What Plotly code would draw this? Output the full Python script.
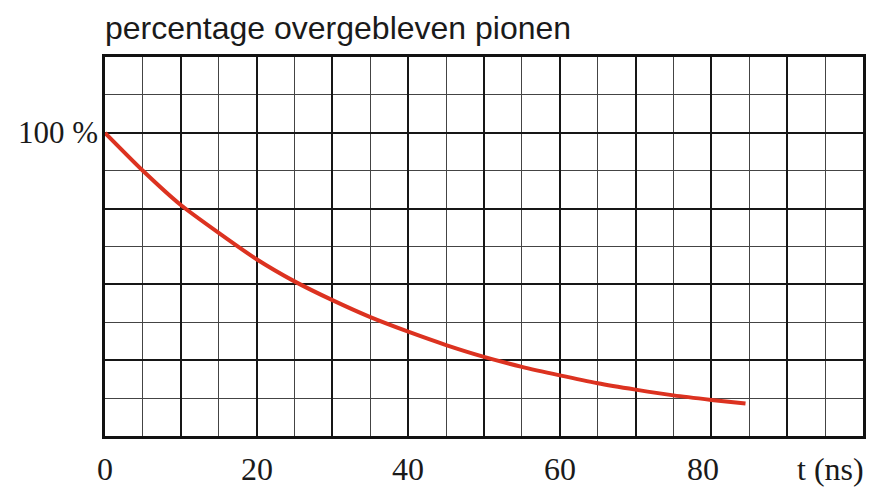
import plotly.graph_objects as go

# data
t_ns = [0, 5, 10, 15, 20, 25, 30, 35, 40, 45, 50, 55, 60, 65, 70, 75, 80, 84.5]
percent_left = [100, 87.5, 76.2, 67, 58.3, 51, 44.8, 39.2, 34.4, 30.0, 26.1, 22.8, 20.0, 17.4, 15.3, 13.4, 11.9, 10.7]
x_tick_vals = [0, 20, 40, 60, 80]
x_tick_text = ["0", "20", "40", "60", "80"]
y_label_val = 100
y_label_text = "100 %"
title_text = "percentage overgebleven pionen"
x_unit_text = "t (ns)"

fig = go.Figure()
fig.add_trace(go.Scatter(
    x=t_ns, y=percent_left, mode="lines",
    line=dict(color="#dc3220", width=4, shape="spline", smoothing=0.6),
    hoverinfo="skip", showlegend=False,
))

serif = "Liberation Serif"
annotations = []
shifts = {80: -8}
for v, txt in zip(x_tick_vals, x_tick_text):
    annotations.append(dict(
        x=v, y=0, xref="x", yref="paper", text=txt, showarrow=False,
        xanchor="center", yanchor="top", yshift=-13, xshift=shifts.get(v, 0),
        font=dict(family=serif, size=32, color="#1a1a1a"),
    ))
annotations.append(dict(
    x=1, y=0, xref="paper", yref="paper", text=x_unit_text, showarrow=False,
    xanchor="right", yanchor="top", yshift=-13, xshift=3,
    font=dict(family=serif, size=32, color="#1a1a1a"),
))
annotations.append(dict(
    x=0, y=y_label_val, xref="paper", yref="y", text=y_label_text, showarrow=False,
    xanchor="right", yanchor="middle", xshift=-5,
    font=dict(family=serif, size=31, color="#1a1a1a"),
))
annotations.append(dict(
    x=0, y=1, xref="paper", yref="paper", text=title_text, showarrow=False,
    xanchor="left", yanchor="bottom", yshift=9, xshift=-2,
    font=dict(family="Liberation Sans", size=32, color="#1a1a1a"),
))

axis_common = dict(
    showticklabels=False, ticks="", zeroline=False,
    showline=True, mirror=True, linecolor="#111111", linewidth=2.5,
    showgrid=True, gridcolor="#161616", gridwidth=2.2,
)
fig.update_layout(
    width=877, height=488,
    margin=dict(l=105, r=14, t=57, b=52),
    paper_bgcolor="white", plot_bgcolor="white",
    xaxis=dict(range=[0, 100], dtick=10, tick0=0,
               minor=dict(dtick=5, showgrid=True, gridcolor="#444444", gridwidth=1.4),
               **axis_common),
    yaxis=dict(range=[0, 125], dtick=25, tick0=0,
               minor=dict(dtick=12.5, showgrid=True, gridcolor="#444444", gridwidth=1.4),
               **axis_common),
    annotations=annotations,
)
fig.write_html("out.html")
